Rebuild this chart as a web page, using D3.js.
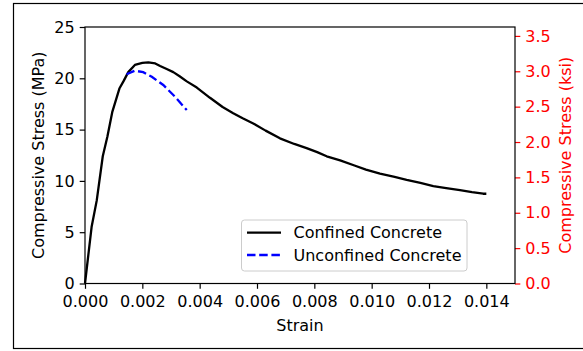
<!DOCTYPE html>
<html>
<head>
<meta charset="utf-8">
<script src="https://cdn.jsdelivr.net/npm/d3@7"></script>
<style>
  html, body { margin: 0; padding: 0; background: #fff; }
  svg { display: block; font-family: "DejaVu Sans", sans-serif; }
</style>
</head>
<body>
<svg id="chart" width="583" height="351"></svg>
<script>
// ---- Data ----
const confinedStrain = [0, 0.00023, 0.00041, 0.00062, 0.00078, 0.00095, 0.0012, 0.00134, 0.00151, 0.00174, 0.0020, 0.00221, 0.00245, 0.00262, 0.00285, 0.00308, 0.0033, 0.00355, 0.0039, 0.00436, 0.0048, 0.00517, 0.0055, 0.00587, 0.0063, 0.0068, 0.0073, 0.00773, 0.0081, 0.00843, 0.0089, 0.0094, 0.0098, 0.01029, 0.0108, 0.01122, 0.0117, 0.01215, 0.0126, 0.01308, 0.0135, 0.01389, 0.014];
const confinedStress = [0, 5.5, 8.1, 12.4, 14.3, 16.7, 19.0, 19.7, 20.6, 21.3, 21.5, 21.55, 21.45, 21.2, 20.9, 20.6, 20.2, 19.7, 19.1, 18.1, 17.2, 16.6, 16.1, 15.6, 14.9, 14.15, 13.6, 13.2, 12.8, 12.4, 12.0, 11.5, 11.1, 10.7, 10.4, 10.1, 9.8, 9.5, 9.3, 9.1, 8.9, 8.75, 8.75];
const unconfinedStrain = [0.00145, 0.00174, 0.00203, 0.00233, 0.00273, 0.00314, 0.00355];
const unconfinedStress = [20.4, 20.74, 20.6, 20.15, 19.35, 18.2, 16.9];
const xTicks = [0, 0.002, 0.004, 0.006, 0.008, 0.010, 0.012, 0.014];
const yTicks = [0, 5, 10, 15, 20, 25];
const ksiTicks = [0, 0.5, 1.0, 1.5, 2.0, 2.5, 3.0, 3.5];
const seriesNames = ["Confined Concrete", "Unconfined Concrete"];
const MPA_PER_KSI = 6.89476;

// ---- Layout ----
const svg = d3.select("#chart");
const pL = 85, pR = 515, pT = 27, pB = 283.5;
const fs = 16;

// outer frame
svg.append("rect").attr("x", 13.5).attr("y", 3.5).attr("width", 620).attr("height", 345)
  .attr("fill", "none").attr("stroke", "#000").attr("stroke-width", 1.2);

const x = d3.scaleLinear().domain([0, 0.015]).range([pL, pR]);
const y = d3.scaleLinear().domain([0, 25]).range([pB, pT]);
const yR = d3.scaleLinear().domain([0, 25 / MPA_PER_KSI]).range([pB, pT]);

// axes
const gx = svg.append("g").attr("transform", `translate(0,${pB})`)
  .call(d3.axisBottom(x).tickValues(xTicks).tickFormat(d3.format(".3f")).tickSize(5.3).tickPadding(6.5));
const gy = svg.append("g").attr("transform", `translate(${pL},0)`)
  .call(d3.axisLeft(y).tickValues(yTicks).tickFormat(d3.format("d")).tickSize(5.3).tickPadding(5));
const gr = svg.append("g").attr("transform", `translate(${pR},0)`)
  .call(d3.axisRight(yR).tickValues(ksiTicks).tickFormat(d3.format(".1f")).tickSize(5.3).tickPadding(5));

[gx, gy, gr].forEach(g => {
  g.select(".domain").remove();
  g.selectAll("text").attr("font-size", fs).attr("font-family", "DejaVu Sans").attr("fill", "#000");
  g.selectAll("line").attr("stroke", "#000").attr("stroke-width", 1.2);
});
gr.selectAll("text").attr("fill", "#ff0000");
gr.selectAll("line").attr("stroke", "#ff0000");

// spines
svg.append("rect").attr("x", pL).attr("y", pT).attr("width", pR - pL).attr("height", pB - pT)
  .attr("fill", "none").attr("stroke", "#000").attr("stroke-width", 1.2);

// lines
const line = d3.line().x(d => x(d[0])).y(d => y(d[1]));
const confined = confinedStrain.map((s, i) => [s, confinedStress[i]]);
const unconfined = unconfinedStrain.map((s, i) => [s, unconfinedStress[i]]);

svg.append("path").datum(confined).attr("d", line)
  .attr("fill", "none").attr("stroke", "#000").attr("stroke-width", 2.3).attr("stroke-linejoin", "round");
svg.append("path").datum(unconfined).attr("d", line)
  .attr("fill", "none").attr("stroke", "#0000ff").attr("stroke-width", 2.3)
  .attr("stroke-dasharray", "8.5,3.7");

// axis labels
svg.append("text").attr("x", (pL + pR) / 2).attr("y", 331).attr("text-anchor", "middle")
  .attr("font-size", fs).text("Strain");
svg.append("text").attr("transform", `translate(44,${(pT + pB) / 2}) rotate(-90)`)
  .attr("text-anchor", "middle").attr("font-size", fs).text("Compressive Stress (MPa)");
svg.append("text").attr("transform", `translate(571,${(pT + pB) / 2}) rotate(-90)`)
  .attr("text-anchor", "middle").attr("font-size", fs).attr("fill", "#ff0000").text("Compressive Stress (ksi)");

// legend
const lg = svg.append("g");
lg.append("rect").attr("x", 241.5).attr("y", 220).attr("width", 225.5).attr("height", 51).attr("rx", 3)
  .attr("fill", "#fff").attr("fill-opacity", 0.8).attr("stroke", "#cccccc").attr("stroke-width", 1);
const legendStyles = [{ color: "#000", dash: null, yy: 232.7 }, { color: "#0000ff", dash: "8.5,3.7", yy: 255 }];
seriesNames.forEach((name, i) => {
  const st = legendStyles[i];
  const l = lg.append("line").attr("x1", 247).attr("x2", 281).attr("y1", st.yy).attr("y2", st.yy)
    .attr("stroke", st.color).attr("stroke-width", 2.3);
  if (st.dash) l.attr("stroke-dasharray", st.dash);
  lg.append("text").attr("x", 293.5).attr("y", st.yy).attr("dy", "0.35em")
    .attr("font-size", fs).text(name);
});
</script>
</body>
</html>
